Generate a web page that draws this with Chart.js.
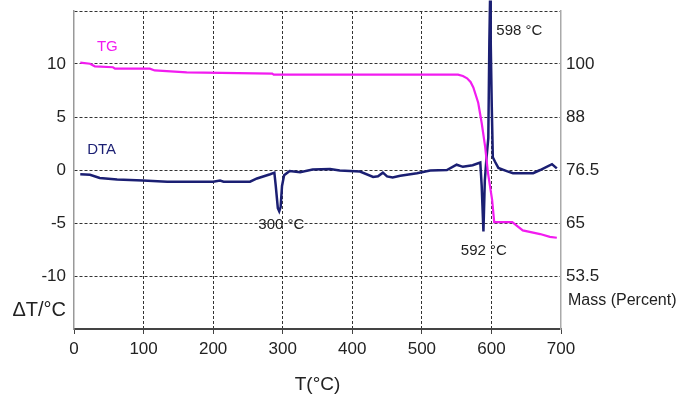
<!DOCTYPE html>
<html>
<head>
    <title>DTA / TG</title>
    <script src="https://cdn.jsdelivr.net/npm/chart.js"></script>
    <style>
        body { margin: 0; background: #fff; }
        #box { width: 677px; height: 397px; position: relative; }
    </style>
</head>
<body>
<div id="box"><canvas id="thermoChart"></canvas></div>

<script>
    // DTA curve: temperature (°C) and ΔT (°C)
    var dtaTemp = [9, 23, 37, 62, 99, 134, 170, 200, 210, 215, 253, 263, 282, 288, 290, 293, 295, 297, 299, 302,
        310, 325, 343, 368, 382, 411, 430, 437, 444, 450, 458, 469, 493, 512, 536, 550, 559, 573, 584, 586,
        588.5, 590.5, 592.5, 595.5, 597, 598, 599, 600.5, 602, 605, 610, 622, 631, 660, 670, 687, 694];
    var dtaValue = [-0.4, -0.45, -0.75, -0.9, -1.0, -1.1, -1.1, -1.1, -1.0, -1.1, -1.1, -0.8, -0.4, -0.25, -1.5, -3.6, -3.9, -3.5, -1.5, -0.5,
        -0.1, -0.2, 0.05, 0.1, -0.05, -0.15, -0.65, -0.6, -0.25, -0.6, -0.7, -0.55, -0.3, -0.05, 0.0, 0.5, 0.3, 0.45, 0.7, -1.5,
        -5.8, -1.0, 0.8, 3, 12, 16, 12, 6, 1.2, 0.8, 0.2, -0.1, -0.3, -0.3, 0.0, 0.55, 0.15];

    // TG curve: temperature (°C) and mass (%)
    var tgTemp = [9, 23, 30, 56, 59, 109, 116, 162, 285, 287, 552, 559, 565, 570, 574, 581, 586, 591, 595, 601,
        604, 630, 645, 670, 684, 694];
    var tgMass = [99.8, 99.55, 99.0, 98.8, 98.5, 98.5, 98.1, 97.7, 97.4, 97.2, 97.2, 96.9, 96.4, 95.6, 94.4, 91.1, 86.7, 81.5, 75.9, 70.0,
        65.2, 65.2, 63.4, 62.6, 62.0, 61.8];

    // axis ticks
    var deltaTicks = [-10, -5, 0, 5, 10];
    var massTickValues = [53.5, 65, 76.5, 88, 99.5];
    var massTickLabels = ['53.5', '65', '76.5', '88', '100'];

    // text notes on the plot
    var notes = [
        {text: 'TG', t: 33, v: 11.6, color: '#f21cf0', align: 'left'},
        {text: 'DTA', t: 19, v: 1.9, color: '#1b1f73', align: 'left'},
        {text: '300 °C', t: 298, v: -5.2, color: '#222', align: 'center'},
        {text: '592 °C', t: 556, v: -7.6, color: '#222', align: 'left'},
        {text: '598 °C', t: 607, v: 13.1, color: '#222', align: 'left'}
    ];

    var FONT = "'Liberation Sans', Arial, sans-serif";
    var GRID = '#333';

    function pairs(xs, ys) {
        return xs.map(function (x, i) { return {x: x, y: ys[i]}; });
    }

    // pin the plot area: no extra room for edge labels
    function noEdgePad(s) {
        s.paddingTop = 0;
        s.paddingBottom = 0;
        s.paddingLeft = 0;
        s.paddingRight = 0;
    }

    var notesPlugin = {
        id: 'notes',
        afterDraw: function (chart) {
            var c = chart.ctx;
            var xs = chart.scales.x, ys = chart.scales.y;
            var area = chart.chartArea;
            c.save();
            c.textBaseline = 'middle';
            c.font = '15px ' + FONT;
            notes.forEach(function (n) {
                c.fillStyle = n.color;
                c.textAlign = n.align;
                c.fillText(n.text, xs.getPixelForValue(n.t), ys.getPixelForValue(n.v));
            });
            // axis captions
            c.fillStyle = '#222';
            c.font = '20px ' + FONT;
            c.textAlign = 'right';
            c.fillText('\u0394T/\u00b0C', area.left - 8, ys.getPixelForValue(-13.3));
            c.font = '16px ' + FONT;
            c.textAlign = 'left';
            c.fillText('Mass (Percent)', area.right + 7, ys.getPixelForValue(-12.3));
            c.restore();
        }
    };

    var ctx = document.getElementById('thermoChart').getContext('2d');
    var thermoChart = new Chart(ctx, {
        type: 'line',
        data: {
            datasets: [
                {
                    label: 'TG',
                    data: pairs(tgTemp, tgMass),
                    yAxisID: 'y2',
                    borderColor: '#f21cf0',
                    borderWidth: 2.2,
                    pointRadius: 0,
                    fill: false
                },
                {
                    label: 'DTA',
                    data: pairs(dtaTemp, dtaValue),
                    yAxisID: 'y',
                    borderColor: '#1b1f73',
                    borderWidth: 2.5,
                    pointRadius: 0,
                    fill: false,
                    clip: false
                }
            ]
        },
        options: {
            responsive: true,
            maintainAspectRatio: false,
            animation: false,
            layout: { padding: { top: 11, left: 0, right: 0, bottom: 0 } },
            plugins: { legend: { display: false }, tooltip: { enabled: false } },
            scales: {
                x: {
                    type: 'linear',
                    position: 'bottom',
                    min: 0,
                    max: 700,
                    afterFit: function (s) { s.height = 68; noEdgePad(s); },
                    ticks: { stepSize: 100, color: '#222', padding: 5, font: { family: FONT, size: 17 } },
                    grid: {
                        color: function (c) {
                            return (c.tick && (c.tick.value === 0 || c.tick.value === 700)) ? 'rgba(0,0,0,0)' : GRID;
                        },
                        lineWidth: 1,
                        tickColor: '#444',
                        tickLength: 5
                    },
                    border: { color: '#444', width: 2, dash: [3, 2] },
                    title: {
                        display: true,
                        text: 'T(°C)',
                        color: '#222',
                        font: { family: FONT, size: 19 },
                        padding: { top: 0, bottom: 1 }
                    }
                },
                y: {
                    position: 'left',
                    min: -15,
                    max: 15,
                    afterFit: function (s) { s.width = 74; noEdgePad(s); },
                    ticks: {
                        stepSize: 5,
                        color: '#222',
                        padding: 8,
                        font: { family: FONT, size: 17 },
                        callback: function (v) { return deltaTicks.indexOf(v) >= 0 ? String(v) : ''; }
                    },
                    grid: {
                        color: function (c) {
                            return (c.tick && c.tick.value === -15) ? 'rgba(0,0,0,0)' : GRID;
                        },
                        lineWidth: 1,
                        drawTicks: false
                    },
                    border: { color: '#999', width: 1.5, dash: [3, 2] }
                },
                y2: {
                    position: 'right',
                    min: 42,
                    max: 111,
                    afterFit: function (s) { s.width = 116; noEdgePad(s); },
                    afterBuildTicks: function (axis) {
                        axis.ticks = massTickValues.map(function (v) { return {value: v}; });
                    },
                    ticks: {
                        color: '#222',
                        padding: 5,
                        font: { family: FONT, size: 17 },
                        callback: function (v, i) { return massTickLabels[i]; }
                    },
                    grid: { display: false, drawTicks: false },
                    border: { color: '#aaa', width: 1.5 }
                }
            }
        },
        plugins: [notesPlugin]
    });
</script>
</body>
</html>
